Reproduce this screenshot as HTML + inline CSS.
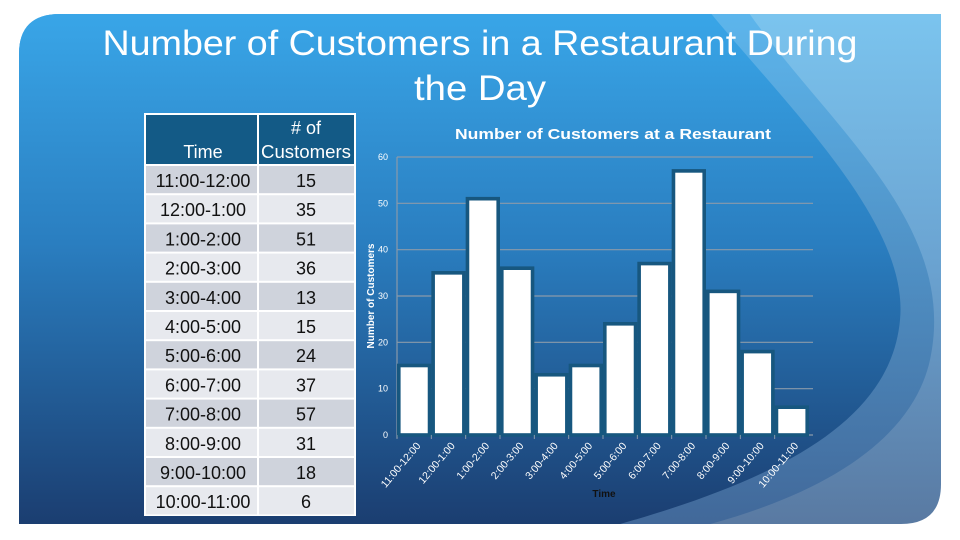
<!DOCTYPE html>
<html><head><meta charset="utf-8">
<style>
html,body{margin:0;padding:0;background:#fff;width:960px;height:540px;overflow:hidden}
svg{display:block;font-family:"Liberation Sans","DejaVu Sans",sans-serif}
</style></head>
<body>
<svg id="s" width="960" height="540" viewBox="0 0 960 540">
<defs>
<linearGradient id="bgL" x1="0" y1="0" x2="0" y2="1">
<stop offset="0" stop-color="#7cc6f0"/><stop offset="0.5" stop-color="#6aa2d0"/><stop offset="1" stop-color="#58779f"/>
</linearGradient>
<linearGradient id="bgD" x1="0" y1="0" x2="0" y2="1">
<stop offset="0" stop-color="#3aa8ea"/><stop offset="0.45" stop-color="#2a7ec0"/><stop offset="1" stop-color="#1a3a6c"/>
</linearGradient>
<linearGradient id="bgM" x1="0" y1="0" x2="0" y2="1">
<stop offset="0" stop-color="#5ab6ee"/><stop offset="1" stop-color="#3e6496"/>
</linearGradient>
<clipPath id="slideClip"><path d="M60,14 H941 V484 Q941,524 901,524 H19 V54 Q19,14 60,14 Z"/></clipPath>
</defs>
<g clip-path="url(#slideClip)">
<rect x="0" y="0" width="960" height="540" fill="url(#bgL)"/>
<path d="M0,0 H740 C820,120 960,220 930,360 C910,450 800,510 640,540 H0 Z" fill="url(#bgM)" opacity="0.9"/>
<path d="M0,0 H700 C780,100 910,220 900,320 C890,430 760,490 560,540 H0 Z" fill="url(#bgD)"/>
</g>
<text x="480" y="55" text-anchor="middle" font-size="35" fill="#fff" textLength="755" lengthAdjust="spacingAndGlyphs">Number of Customers in a Restaurant During</text>
<text x="480" y="100" text-anchor="middle" font-size="35" fill="#fff" textLength="132" lengthAdjust="spacingAndGlyphs">the Day</text>
<g id="table"></g>
<g id="chart"></g>
</svg>
<script>
const categories=["11:00-12:00","12:00-1:00","1:00-2:00","2:00-3:00","3:00-4:00","4:00-5:00","5:00-6:00","6:00-7:00","7:00-8:00","8:00-9:00","9:00-10:00","10:00-11:00"];
const customers=[15,35,51,36,13,15,24,37,57,31,18,6];
const yTicks=[0,10,20,30,40,50,60];
const NS="http://www.w3.org/2000/svg";
function mk(tag,attrs,parent,txt){const e=document.createElementNS(NS,tag);for(const k in attrs)e.setAttribute(k,attrs[k]);if(txt!==undefined)e.textContent=txt;parent.appendChild(e);return e;}
// table
const tb=document.getElementById('table');
mk('rect',{x:144,y:113,width:212,height:403,fill:'#fff'},tb);
let h=mk('rect',{x:146,y:115,width:111,height:49,fill:'#135a86'},tb);


h=mk('rect',{x:259,y:115,width:95,height:49,fill:'#135a86'},tb);


mk('text',{x:203,y:158,'text-anchor':'middle','font-size':18,fill:'#fff'},tb,'Time');
mk('text',{x:306,y:134,'text-anchor':'middle','font-size':18,fill:'#fff'},tb,'# of');
mk('text',{x:306,y:158,'text-anchor':'middle','font-size':18,fill:'#fff',textLength:90,lengthAdjust:'spacingAndGlyphs'},tb,'Customers');
const rowH=29.2;
categories.forEach((c,i)=>{
  const y=166+i*rowH;
  const col=i%2===0?'#cfd3dc':'#e7e9ee';
  const r=mk('rect',{x:146,y:y,width:111,height:rowH-2,fill:col},tb);
  
  
  mk('rect',{x:259,y:y,width:95,height:rowH-2,fill:col},tb);
  mk('text',{x:203,y:y+21,'text-anchor':'middle','font-size':18,fill:'#111'},tb,c);
  mk('text',{x:306,y:y+21,'text-anchor':'middle','font-size':18,fill:'#111'},tb,String(customers[i]));
});
// chart
const ch=document.getElementById('chart');
const X0=397,X1=809,Y0=435,Y1=157,YMAX=60;
const bw=(X1-X0)/categories.length;
const ys=v=>Y0-(v/YMAX)*(Y0-Y1);
const xs=i=>X0+i*bw;
let t=mk('text',{x:613,y:139,'text-anchor':'middle','font-size':15,'font-weight':'bold',fill:'#fff',textLength:316,lengthAdjust:'spacingAndGlyphs'},ch,'Number of Customers at a Restaurant');


yTicks.forEach(v=>{
  const g=mk('line',{x1:X0,x2:X1+4,y1:ys(v),y2:ys(v),stroke:'#8a9aaa','stroke-width':1.2},ch);
  
  
  const l=mk('text',{x:388,y:ys(v)+3,'text-anchor':'end','font-size':9,fill:'#fff'},ch,String(v));
  
  
});
mk('line',{x1:X0,x2:X0,y1:Y1,y2:Y0+3,stroke:'#8a9aaa','stroke-width':1.2},ch);
customers.forEach((v,i)=>{
  const b=mk('rect',{x:xs(i)+1.8,y:ys(v),width:bw-3.6,height:Y0-ys(v),fill:'#fff',stroke:'#17577f','stroke-width':3.6},ch);
  
  
});
categories.forEach((c,i)=>{
  mk('line',{x1:xs(i),x2:xs(i),y1:Y0,y2:Y0+4,stroke:'#8a9aaa'},ch);
  const cx=xs(i)+bw/2+7,cy=Y0+11;
  const l=mk('text',{x:cx,y:cy,'text-anchor':'end','font-size':10.5,fill:'#fff',transform:`rotate(-50 ${cx} ${cy})`},ch,c);
  
  
});
t=mk('text',{x:604,y:497,'text-anchor':'middle','font-size':10,'font-weight':'bold',fill:'#111'},ch,'Time');


t=mk('text',{x:374,y:296,'text-anchor':'middle','font-size':10,'font-weight':'bold',fill:'#fff',transform:'rotate(-90 374 296)'},ch,'Number of Customers');


</script>
</body></html>
